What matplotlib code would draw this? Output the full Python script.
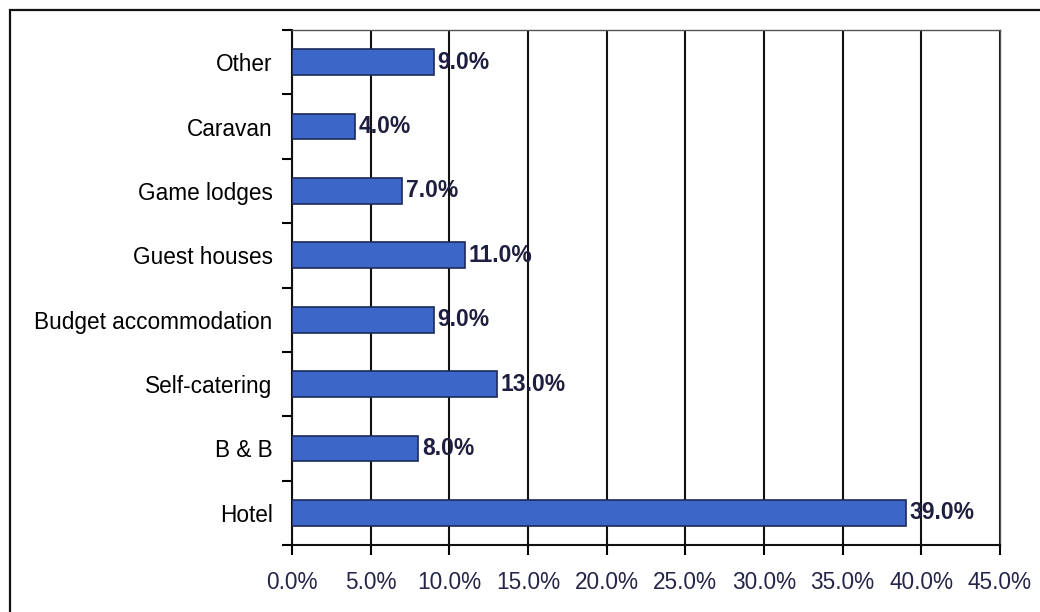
import matplotlib.pyplot as plt
from matplotlib.patches import Rectangle
from matplotlib.ticker import FixedLocator, PercentFormatter

plt.rcParams['font.family'] = ['Liberation Sans', 'DejaVu Sans']

# Accommodation type share (%)
categories = ["Hotel", "B & B", "Self-catering", "Budget accommodation",
              "Guest houses", "Game lodges", "Caravan", "Other"]
shares = [39.0, 8.0, 13.0, 9.0, 11.0, 7.0, 4.0, 9.0]
x_ticks = [0, 5, 10, 15, 20, 25, 30, 35, 40, 45]

fig = plt.figure(figsize=(10.4, 6.12), dpi=100)

# outer frame around the chart
fig.patches.append(Rectangle((10 / 1040, -0.1), 1.2, 0.1 + 1 - 10 / 612,
                             transform=fig.transFigure, fill=False,
                             edgecolor='#111111', linewidth=1.6))

ax = fig.add_axes([292 / 1040, 1 - 545 / 612, 708 / 1040, 515 / 612])

ypos = range(len(categories))
ax.barh(ypos, shares, height=0.4, color='#3c67c9', edgecolor='#1c2a5a',
        linewidth=1.2, zorder=3)

for y, v in zip(ypos, shares):
    ax.text(v + 0.25, y, f"{v:.1f}%", va='center', ha='left',
            fontsize=16.5, fontweight='bold', color='#1e1e40', zorder=4)

ax.set_xlim(0, 45)
ax.set_ylim(-0.5, len(categories) - 0.5)
ax.xaxis.set_major_locator(FixedLocator(x_ticks))
ax.xaxis.set_major_formatter(PercentFormatter(decimals=1))
ax.set_yticks(list(ypos))
ax.set_yticklabels(categories)
ax.yaxis.set_minor_locator(FixedLocator([i - 0.5 for i in range(len(categories) + 1)]))

ax.grid(axis='x', color='#111111', linewidth=1.5, zorder=1)
ax.tick_params(axis='x', direction='out', length=7, width=1.5,
               labelsize=16.3, labelcolor='#25254a', pad=12)
ax.tick_params(axis='y', which='major', length=0, labelsize=16.3, pad=14)
ax.tick_params(axis='y', which='minor', direction='out', length=7, width=1.5)

for side in ['left', 'bottom']:
    ax.spines[side].set_linewidth(1.5)
    ax.spines[side].set_color('#111111')
for side in ['top', 'right']:
    ax.spines[side].set_linewidth(1.0)
    ax.spines[side].set_color('#555555')

fig.savefig("out.png", dpi=100)
